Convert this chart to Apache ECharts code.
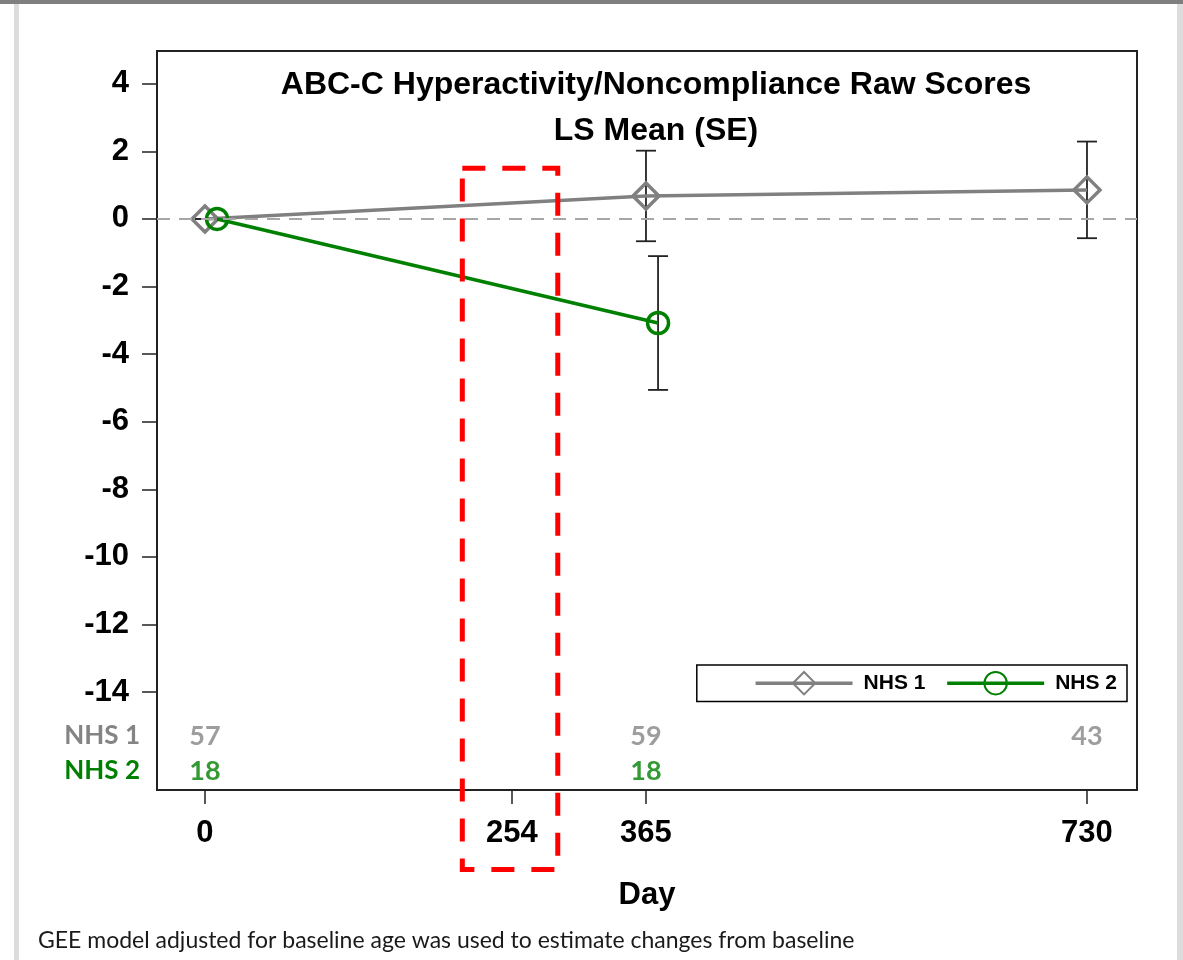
<!DOCTYPE html>
<html>
<head>
<meta charset="utf-8">
<title>ABC-C Hyperactivity/Noncompliance Raw Scores</title>
<script src="https://cdn.jsdelivr.net/npm/echarts@6/dist/echarts.min.js"></script>
<style>
  html, body { margin: 0; padding: 0; background: #fff; }
  #chart { width: 1183px; height: 960px; }
</style>
</head>
<body>
<div id="chart"></div>
<script>
// Visit days and LS mean change from baseline (SE) per group
const nhs1Days = [0, 365, 730];
const nhs1Mean = [0, 0.68, 0.86];
const nhs1SE = [0, 1.34, 1.43];

const nhs2Days = [0, 365];
const nhs2Mean = [0, -3.08];
const nhs2SE = [0, 1.98];

// Number of subjects per visit
const nhs1N = [57, 59, 43];
const nhs2N = [18, 18];

// Axis ticks
const xTicks = [0, 254, 365, 730];
const yTicks = [4, 2, 0, -2, -4, -6, -8, -10, -12, -14];

// Highlighted visit
const highlightDay = 254;

const GRAY = '#808080';
const GREEN = '#008000';
const NHS2_SHIFT = 10;          // small horizontal dodge for the second group
const ROW1_Y = -15.3;           // at-risk table rows inside the plot area
const ROW2_Y = -16.34;

const chart = echarts.init(document.getElementById('chart'), null, { renderer: 'canvas' });

const meanData1 = nhs1Days.map((d, i) => [d, nhs1Mean[i]]);
const meanData2 = nhs2Days.map((d, i) => [d + NHS2_SHIFT, nhs2Mean[i]]);
const errData1 = nhs1Days.map((d, i) => [d, nhs1Mean[i] - nhs1SE[i], nhs1Mean[i] + nhs1SE[i]]);
const errData2 = nhs2Days.map((d, i) => [d + NHS2_SHIFT, nhs2Mean[i] - nhs2SE[i], nhs2Mean[i] + nhs2SE[i]]);
const countData1 = nhs1Days.map((d, i) => [d, ROW1_Y, nhs1N[i]]);
const countData2 = nhs2Days.map((d, i) => [d, ROW2_Y, nhs2N[i]]);

function renderErrorBar(params, api) {
  const x = api.value(0);
  const lo = api.coord([x, api.value(1)]);
  const hi = api.coord([x, api.value(2)]);
  const cap = 10;
  const style = { stroke: '#222', lineWidth: 1.8 };
  return {
    type: 'group',
    children: [
      { type: 'line', shape: { x1: hi[0], y1: hi[1], x2: lo[0], y2: lo[1] }, style },
      { type: 'line', shape: { x1: hi[0] - cap, y1: hi[1], x2: hi[0] + cap, y2: hi[1] }, style },
      { type: 'line', shape: { x1: lo[0] - cap, y1: lo[1], x2: lo[0] + cap, y2: lo[1] }, style }
    ]
  };
}

const boldArial = { fontFamily: 'Liberation Sans, Arial, sans-serif', fontWeight: 'bold', color: '#000' };

chart.setOption({
  animation: false,
  backgroundColor: '#fff',
  title: {
    text: 'ABC-C Hyperactivity/Noncompliance Raw Scores\nLS Mean (SE)',
    left: 651,
    textAlign: 'center',
    top: 57,
    textStyle: { ...boldArial, fontSize: 32, lineHeight: 46 }
  },
  grid: {
    left: 157, right: 46, top: 51, bottom: 170,
    show: true, borderColor: '#222', borderWidth: 2, backgroundColor: 'transparent'
  },
  legend: {
    right: 56, top: 665,
    itemWidth: 97, itemHeight: 28, itemGap: 20,
    padding: [6, 10, 6, 57],
    borderColor: '#000', borderWidth: 1.5,
    lineStyle: { width: 3.5 },
    textStyle: { ...boldArial, fontSize: 21, padding: [0, 0, 0, 6] },
    data: ['NHS 1', 'NHS 2']
  },
  xAxis: {
    type: 'value',
    min: -39.7, max: 771.4,
    name: 'Day', nameLocation: 'middle', nameGap: 90,
    nameTextStyle: { ...boldArial, fontSize: 31 },
    splitLine: { show: false },
    axisLine: { show: false, onZero: false },
    axisTick: { show: true, length: 14, lineStyle: { color: '#222', width: 1.5 }, customValues: xTicks },
    axisLabel: { ...boldArial, fontSize: 31, margin: 28, customValues: xTicks }
  },
  yAxis: {
    type: 'value',
    min: -16.9, max: 4.97,
    splitLine: { show: false },
    axisLine: { show: false, onZero: false },
    axisTick: { show: true, length: 15, lineStyle: { color: '#222', width: 1.5 }, customValues: yTicks },
    axisLabel: { ...boldArial, fontSize: 31, margin: 28, customValues: yTicks }
  },
  series: [
    {
      name: 'NHS 1',
      type: 'line',
      data: meanData1,
      symbol: 'diamond',
      symbolSize: 26,
      z: 3,
      lineStyle: { color: GRAY, width: 3.5 },
      itemStyle: { color: 'rgba(255,255,255,0)', borderColor: GRAY, borderWidth: 3.5 },
      markLine: {
        silent: true,
        symbol: 'none',
        label: { show: false },
        lineStyle: { color: '#a6a6a6', type: [13, 9], width: 2 },
        data: [{ yAxis: 0 }]
      }
    },
    {
      name: 'NHS 2',
      type: 'line',
      data: meanData2,
      symbol: 'circle',
      symbolSize: 21,
      z: 4,
      lineStyle: { color: GREEN, width: 3.5 },
      itemStyle: { color: 'rgba(255,255,255,0)', borderColor: GREEN, borderWidth: 3.5 }
    },
    {
      name: 'NHS 1 SE',
      type: 'custom',
      data: errData1,
      renderItem: renderErrorBar,
      encode: { x: 0, y: [1, 2] },
      z: 2
    },
    {
      name: 'NHS 2 SE',
      type: 'custom',
      data: errData2,
      renderItem: renderErrorBar,
      encode: { x: 0, y: [1, 2] },
      z: 2
    },
    {
      name: 'N NHS 1',
      type: 'scatter',
      data: countData1,
      symbolSize: 1,
      itemStyle: { color: 'rgba(0,0,0,0)' },
      label: {
        show: true, position: 'inside',
        formatter: p => String(p.value[2]),
        fontFamily: 'Lato, Open Sans, sans-serif', fontWeight: 'bold', fontSize: 27, color: '#848484'
      }
    },
    {
      name: 'N NHS 2',
      type: 'scatter',
      data: countData2,
      symbolSize: 1,
      itemStyle: { color: 'rgba(0,0,0,0)' },
      label: {
        show: true, position: 'inside',
        formatter: p => String(p.value[2]),
        fontFamily: 'Lato, Open Sans, sans-serif', fontWeight: 'bold', fontSize: 27, color: GREEN
      }
    }
  ]
});

// Annotations placed through the chart's own coordinate system
const boxTL = chart.convertToPixel({ gridIndex: 0 }, [highlightDay - 41, 1.5]);
const boxBR = chart.convertToPixel({ gridIndex: 0 }, [highlightDay + 38, -19.25]);
const row1 = chart.convertToPixel({ gridIndex: 0 }, [0, ROW1_Y]);
const row2 = chart.convertToPixel({ gridIndex: 0 }, [0, ROW2_Y]);

chart.setOption({
  graphic: [
    { type: 'rect', left: 0, top: 0, shape: { width: 1183, height: 4 }, style: { fill: '#7f7f7f' }, silent: true },
    { type: 'rect', left: 14, top: 4, shape: { width: 5, height: 956 }, style: { fill: '#dcdcdc' }, silent: true },
    { type: 'rect', left: 1177, top: 4, shape: { width: 6, height: 956 }, style: { fill: '#dcdcdc' }, silent: true },
    {
      type: 'rect', z: 100, silent: true,
      shape: { x: boxTL[0], y: boxTL[1], width: boxBR[0] - boxTL[0], height: boxBR[1] - boxTL[1] },
      style: { fill: 'none', stroke: '#ff0000', lineWidth: 5, lineDash: [23, 17] }
    },
    {
      type: 'text', silent: true, x: 140, y: row1[1],
      style: {
        text: 'NHS 1', align: 'right', verticalAlign: 'middle',
        font: 'bold 26px Lato, "Open Sans", sans-serif', fill: '#848484'
      }
    },
    {
      type: 'text', silent: true, x: 140, y: row2[1],
      style: {
        text: 'NHS 2', align: 'right', verticalAlign: 'middle',
        font: 'bold 26px Lato, "Open Sans", sans-serif', fill: GREEN
      }
    },
    {
      type: 'text', silent: true, x: 38, y: 941,
      style: {
        text: 'GEE model adjusted for baseline age was used to estimate changes from baseline',
        verticalAlign: 'middle',
        font: '23px Lato, "Open Sans", sans-serif', fill: '#1a1a1a'
      }
    }
  ]
});
</script>
</body>
</html>
